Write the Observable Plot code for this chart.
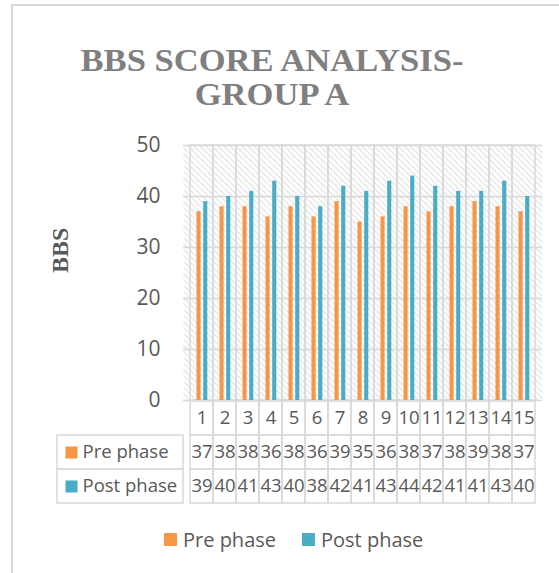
<!DOCTYPE html>
<html>
<head>
<meta charset="utf-8">
<script src="https://cdn.jsdelivr.net/npm/d3@7"></script>
<script src="https://cdn.jsdelivr.net/npm/@observablehq/plot@0.6"></script>
<style>
  html, body { margin: 0; padding: 0; background: #fff; overflow: hidden; }
  #wrap { position: relative; width: 559px; height: 573px; overflow: hidden; }
  #border { position: absolute; left: 11px; top: 4px; width: 600px; height: 620px;
            border-left: 2px solid #d9d9d9; border-top: 2px solid #d9d9d9; box-sizing: border-box; }
  #title { position: absolute; left: 12px; width: 520px; top: 43.5px; text-align: center;
           font-family: "Liberation Serif", "Times New Roman", serif; font-weight: bold;
           font-size: 31px; line-height: 34px; color: #7f7f7f;
           transform: scaleX(1.115); transform-origin: 260px 0; }
  #chart { position: absolute; left: 0; top: 0; }
  #table { position: absolute; left: 0; top: 398px; }
  #legend { position: absolute; left: 164px; top: 526px; height: 26px; display: flex; align-items: center;
            font-family: "Open Sans", sans-serif; font-size: 20px; color: #595959; }
  .sw { display: inline-block; width: 13px; height: 13px; margin-right: 6px; }
  .item { display: flex; align-items: center; margin-right: 26px; }
  svg { overflow: visible; }
</style>
</head>
<body>
<div id="wrap">
  <div id="border"></div>
  <div id="title">BBS SCORE ANALYSIS-<br>GROUP A</div>
  <div id="chart"></div>
  <div id="table"></div>
  <div id="legend"></div>
</div>
<script>
const categories = ["1","2","3","4","5","6","7","8","9","10","11","12","13","14","15"];
const prePhase  = [37,38,38,36,38,36,39,35,36,38,37,38,39,38,37];
const postPhase = [39,40,41,43,40,38,42,41,43,44,42,41,41,43,40];
const seriesNames  = ["Pre phase", "Post phase"];
const seriesColors = ["#F79646", "#4BACC6"];
const yTicks = [0, 10, 20, 30, 40, 50];
const yLabel = "BBS";

const preData  = categories.map((c, i) => ({cat: c, value: prePhase[i]}));
const postData = categories.map((c, i) => ({cat: c, value: postPhase[i]}));

const grid = "#d9d9d9";
const textColor = "#595959";

const chart = Plot.plot({
  width: 559, height: 410,
  marginTop: 145, marginBottom: 10, marginLeft: 183, marginRight: 17,
  x: {type: "band", domain: categories, padding: 0, axis: null},
  y: {domain: [yTicks[0], yTicks[yTicks.length - 1]], axis: null},
  style: {fontFamily: "Open Sans, sans-serif", color: textColor, background: "transparent", overflow: "visible"},
  marks: [
    Plot.frame({fill: "url(#hatch)", stroke: null}),
    Plot.ruleY(yTicks, {stroke: grid, strokeWidth: 1.5, strokeOpacity: 1}),
    Plot.barY(categories, {x: d => d, y1: () => yTicks[0], y2: () => yTicks[yTicks.length - 1],
      fill: "none", stroke: grid, strokeWidth: 1.5}),
    Plot.barY(preData, {x: "cat", y: "value", fill: seriesColors[0], insetLeft: 6.5, insetRight: 12.4}),
    Plot.barY(postData, {x: "cat", y: "value", fill: seriesColors[1], insetLeft: 13.2, insetRight: 5.7}),
    Plot.axisY({ticks: yTicks, tickSize: 0, tickPadding: 23, fontSize: 21, label: null, fill: textColor}),
    Plot.text([yLabel], {text: d => d, frameAnchor: "left", dx: -123, rotate: -90,
      fontFamily: "Liberation Serif, serif", fontWeight: "bold", fontSize: 24, fill: textColor})
  ]
});
chart.insertAdjacentHTML("afterbegin",
  '<defs><pattern id="hatch" patternUnits="userSpaceOnUse" width="6" height="6">' +
  '<rect width="6" height="6" fill="#ffffff"/>' +
  '<path d="M0,0L6,6M-1.5,4.5L1.5,7.5M4.5,-1.5L7.5,1.5" stroke="#d6d6d6" stroke-width="1.3" stroke-dasharray="2 1"/>' +
  '</pattern></defs>');
document.getElementById("chart").appendChild(chart);

// data table
const rowKeys = ["category", ...seriesNames];
const tableData = [];
categories.forEach((c, i) => {
  tableData.push({cat: c, row: "category", text: c});
  tableData.push({cat: c, row: seriesNames[0], text: String(prePhase[i])});
  tableData.push({cat: c, row: seriesNames[1], text: String(postPhase[i])});
});

const table = Plot.plot({
  width: 559, height: 108,
  marginTop: 2, marginBottom: 3, marginLeft: 183, marginRight: 17,
  x: {type: "band", domain: categories, padding: 0, axis: null},
  y: {type: "band", domain: rowKeys, padding: 0, axis: null},
  color: {domain: seriesNames, range: seriesColors},
  style: {fontFamily: "Open Sans, sans-serif", color: textColor, background: "transparent", overflow: "visible"},
  marks: [
    Plot.cell(seriesNames, {y: d => d, insetLeft: -126, insetRight: 359, fill: "none", stroke: grid, strokeWidth: 1.5}),
    Plot.cell(tableData, {x: "cat", y: "row", fill: "none", stroke: grid, strokeWidth: 1.5}),
    Plot.text(tableData, {x: "cat", y: "row", text: "text", fontSize: 18.5, fill: textColor}),
    Plot.dot(seriesNames, {y: d => d, frameAnchor: "left", dx: -112, symbol: "square", r: 6.8, fill: d => d, stroke: null}),
    Plot.text(seriesNames, {y: d => d, text: d => d, frameAnchor: "left", textAnchor: "start", dx: -101, fontSize: 18.5, fill: textColor})
  ]
});
document.getElementById("table").appendChild(table);

// legend
const legend = document.getElementById("legend");
seriesNames.forEach((s, i) => {
  const item = document.createElement("div");
  item.className = "item";
  item.innerHTML = `<span class="sw" style="background:${seriesColors[i]}"></span><span>${s}</span>`;
  legend.appendChild(item);
});
</script>
</body>
</html>
